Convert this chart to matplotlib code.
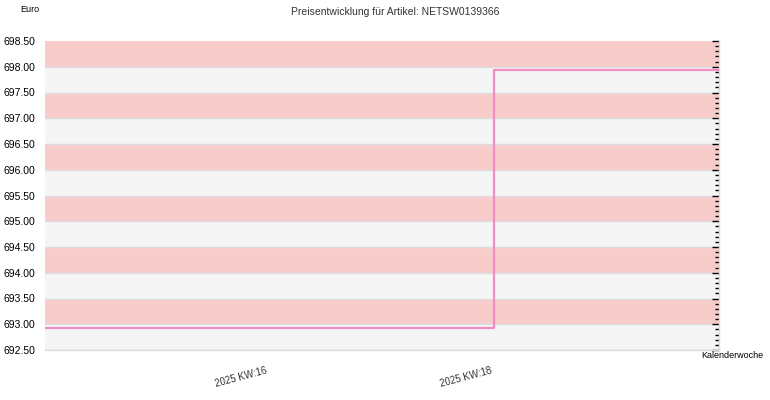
import matplotlib

matplotlib.use("Agg")

import matplotlib.pyplot as plt
from matplotlib.ticker import MultipleLocator
from matplotlib.transforms import ScaledTranslation

plt.rcParams["font.family"] = ["Liberation Sans", "DejaVu Sans"]

# days since start of the chart window
days = [0, 28, 42]
prices = [692.93, 697.93, 697.93]
tick_days = [14, 28]
tick_labels = ["2025 KW:16", "2025 KW:18"]
y_min, y_max = 692.5, 698.5

fig = plt.figure(figsize=(7.7, 4.0), dpi=100)
ax = fig.add_axes([45 / 770, 50 / 400, 674 / 770, 309 / 400])

# alternating background bands
y = y_min
i = 0
while y < y_max:
    color = "#F5F5F5" if i % 2 == 0 else "#F9CCCC"
    ax.axhspan(y, y + 0.5, color=color, zorder=0, lw=0)
    ax.axhline(y, color="#DDDDDD", lw=1, zorder=1)
    y += 0.5
    i += 1

ax.step(days, prices, where="post", color="#F28CC4", lw=1.6, zorder=3)

ax.set_xlim(days[0], days[-1])
ax.set_ylim(y_min, y_max)

ax.yaxis.set_major_locator(MultipleLocator(0.5))
ax.yaxis.set_major_formatter(lambda v, p: f"{v:.2f}")
ax.yaxis.set_minor_locator(MultipleLocator(0.1))
ax.tick_params(axis="y", which="both", left=False, right=True, direction="in",
               labelsize=7.5, pad=7, color="black", width=1)
ax.tick_params(axis="y", which="major", length=5)
ax.tick_params(axis="y", which="minor", length=3)

ax.set_xticks(tick_days)
ax.set_xticklabels(tick_labels, rotation=15, ha="right", rotation_mode="anchor", color="#333333")
ax.tick_params(axis="x", length=0, labelsize=7, pad=11)
shift = ScaledTranslation(-4 / 100, 0, fig.dpi_scale_trans)
for lbl in ax.get_xticklabels():
    lbl.set_transform(lbl.get_transform() + shift)

for side in ["top", "left"]:
    ax.spines[side].set_visible(False)
for side in ["bottom", "right"]:
    ax.spines[side].set_color("#DDDDDD")
    ax.spines[side].set_linewidth(1)

fig.text(395 / 770, 1 - 12 / 400, "Preisentwicklung für Artikel: NETSW0139366",
         ha="center", va="center", fontsize=7.5, color="#333333")
fig.text(20 / 770, 1 - 10 / 400, "Euro", ha="left", va="center", fontsize=6.5)
fig.text(763 / 770, 1 - 356 / 400, "Kalenderwoche", ha="right", va="center", fontsize=6.5)

fig.savefig("out.png", dpi=100)
